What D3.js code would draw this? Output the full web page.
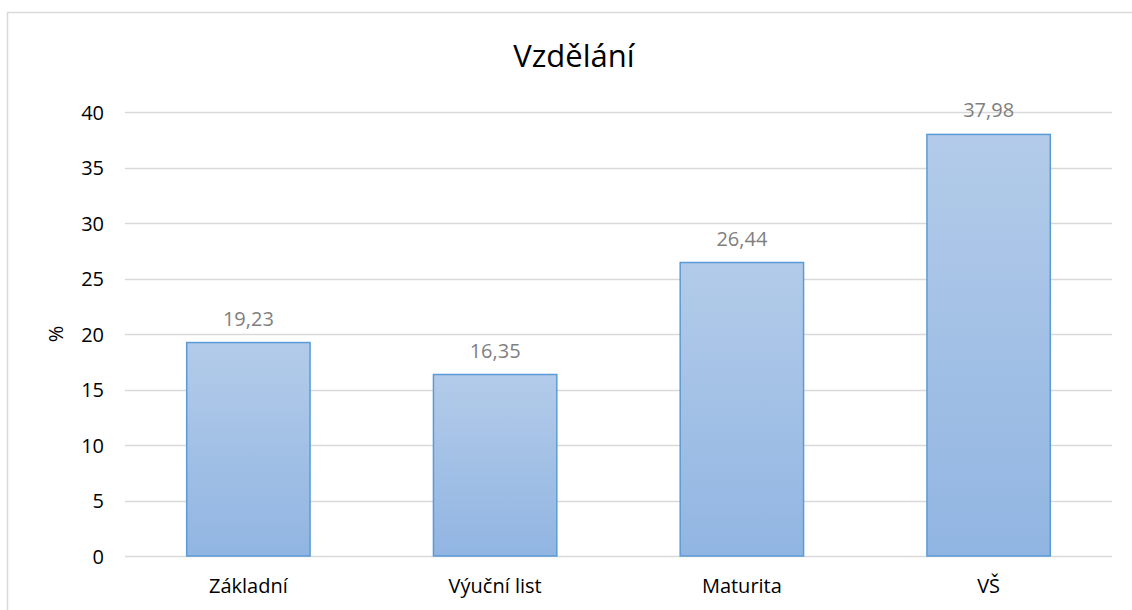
<!DOCTYPE html>
<html>
<head>
<meta charset="utf-8">
<script src="https://cdn.jsdelivr.net/npm/d3@7"></script>
<style>
  body { margin: 0; background: #fff; }
  text { font-family: "Open Sans", "Noto Sans", sans-serif; }
</style>
</head>
<body>
<svg id="chart" width="1132" height="610"></svg>
<script>
// data
var categories = ['Základní', 'Výuční list', 'Maturita', 'VŠ'];
var values = [19.23, 16.35, 26.44, 37.98];
var yTicks = [0, 5, 10, 15, 20, 25, 30, 35, 40];
var title = 'Vzdělání';
var yTitle = '%';

var width = 1132, height = 610;
var margin = {left: 125, right: 20, top: 112, bottom: 54};

var svg = d3.select('#chart');

// chart frame (runs off the right and bottom edge)
svg.append('rect')
  .attr('x', 7.5).attr('y', 12.5)
  .attr('width', 1140).attr('height', 620)
  .attr('fill', '#fff')
  .attr('stroke', '#d9d9d9')
  .attr('stroke-width', 1.5);

var defs = svg.append('defs');
var grad = defs.append('linearGradient')
  .attr('id', 'barGrad')
  .attr('x1', 0).attr('y1', 0).attr('x2', 0).attr('y2', 1);
grad.append('stop').attr('offset', '0%').attr('stop-color', '#b3cbe9');
grad.append('stop').attr('offset', '100%').attr('stop-color', '#91b5e2');

var x = d3.scaleBand()
  .domain(categories)
  .range([margin.left, 1112])
  .paddingInner(0.5)
  .paddingOuter(0.25);

var y = d3.scaleLinear()
  .domain([0, 40])
  .range([556, margin.top]);

// gridlines
svg.append('g')
  .selectAll('line')
  .data(yTicks)
  .enter()
  .append('line')
  .attr('x1', margin.left)
  .attr('x2', 1112)
  .attr('y1', function(d) { return Math.round(y(d)) + 0.5; })
  .attr('y2', function(d) { return Math.round(y(d)) + 0.5; })
  .attr('stroke', '#d9d9d9')
  .attr('stroke-width', 1.5);

// y axis labels
var yAxis = d3.axisLeft(y).tickValues(yTicks).tickSize(0).tickPadding(0);
var gy = svg.append('g')
  .attr('transform', 'translate(104,0)')
  .call(yAxis);
gy.select('.domain').remove();
gy.selectAll('text')
  .attr('font-size', '20px')
  .attr('fill', '#000')
  .attr('dy', '0.35em');

// x axis labels
var xAxis = d3.axisBottom(x).tickSize(0).tickPadding(0);
var gx = svg.append('g')
  .attr('transform', 'translate(0,593)')
  .call(xAxis);
gx.select('.domain').remove();
gx.selectAll('text')
  .attr('font-size', '20px')
  .attr('fill', '#000')
  .attr('dy', '0');

// bars
svg.append('g')
  .selectAll('rect')
  .data(values)
  .enter()
  .append('rect')
  .attr('x', function(d, i) { return x(categories[i]); })
  .attr('y', function(d) { return y(d); })
  .attr('width', x.bandwidth())
  .attr('height', function(d) { return y(0) - y(d); })
  .attr('fill', 'url(#barGrad)')
  .attr('stroke', '#5b9bd5')
  .attr('stroke-width', 1.5);

// value labels
svg.append('g')
  .selectAll('text')
  .data(values)
  .enter()
  .append('text')
  .attr('x', function(d, i) { return x(categories[i]) + x.bandwidth() / 2; })
  .attr('y', function(d) { return y(d) - 17; })
  .attr('text-anchor', 'middle')
  .attr('font-size', '20px')
  .attr('fill', '#7f7f7f')
  .text(function(d) { return d.toFixed(2).replace('.', ','); });

// title
svg.append('text')
  .attr('x', 574)
  .attr('y', 67)
  .attr('text-anchor', 'middle')
  .attr('font-size', '31px')
  .attr('fill', '#000')
  .text(title);

// y axis title
svg.append('text')
  .attr('transform', 'translate(63,' + y(20) + ') rotate(-90)')
  .attr('text-anchor', 'middle')
  .attr('font-size', '20px')
  .attr('fill', '#000')
  .text(yTitle);
</script>
</body>
</html>
